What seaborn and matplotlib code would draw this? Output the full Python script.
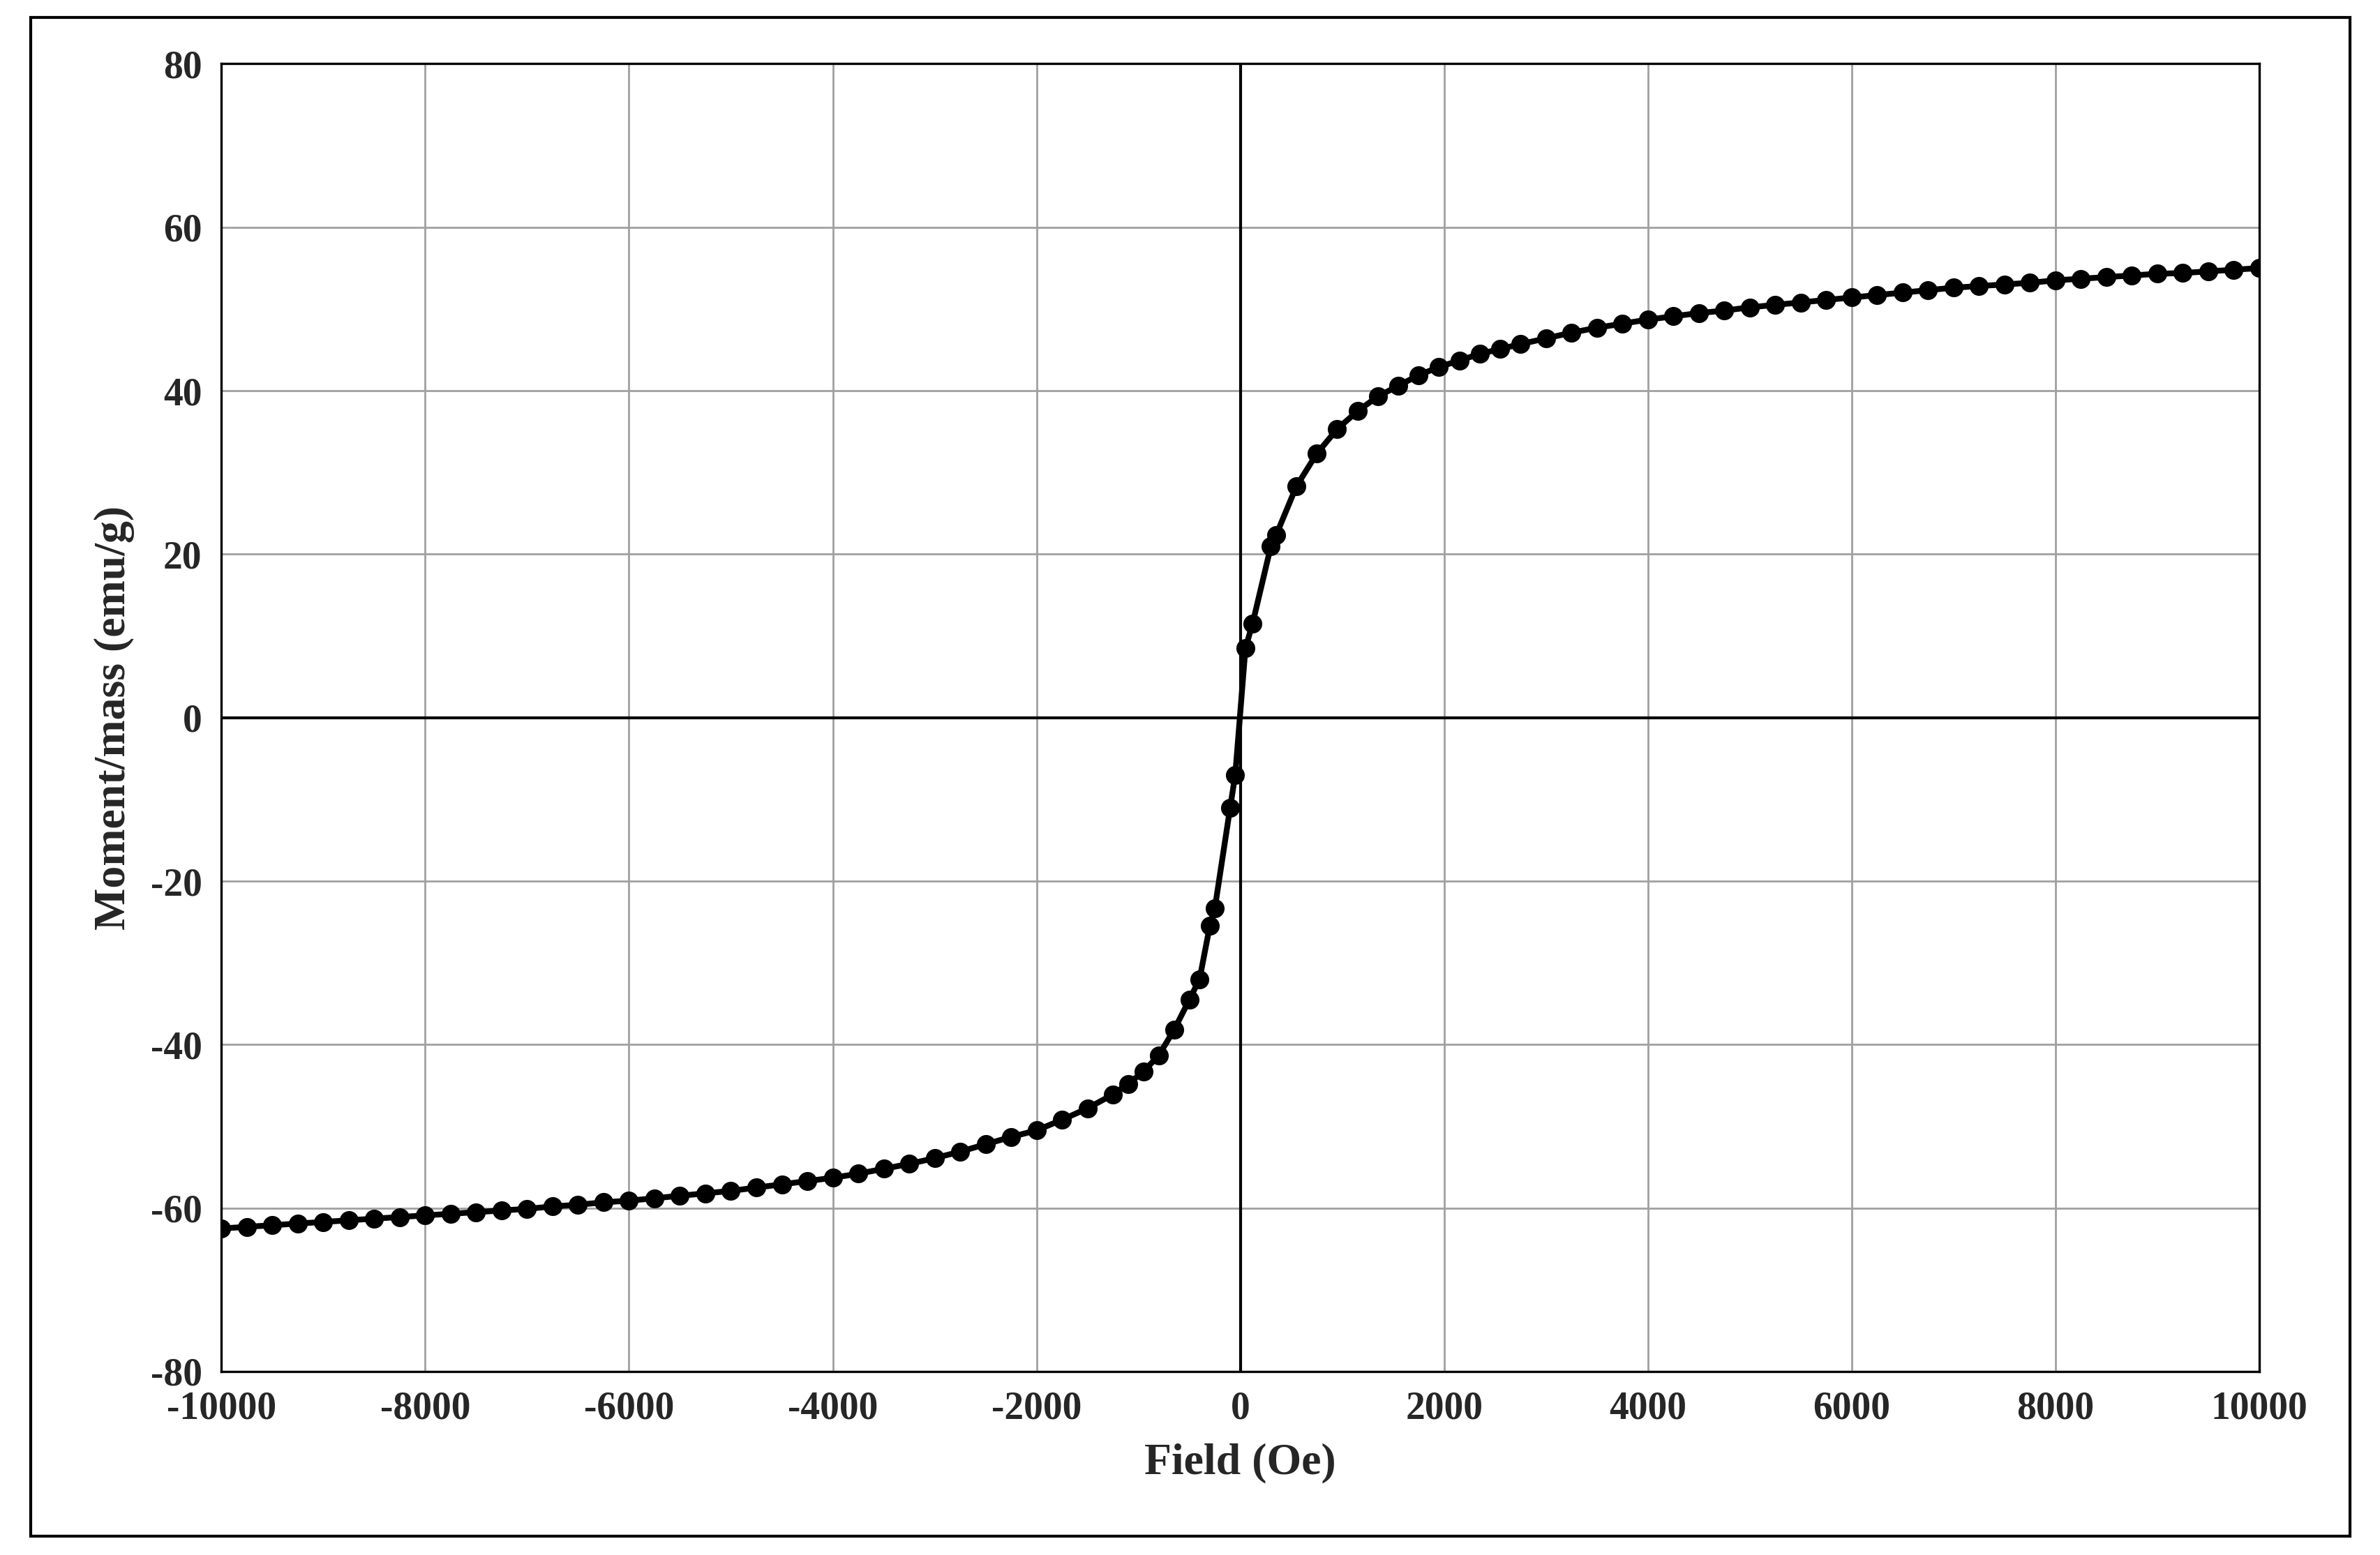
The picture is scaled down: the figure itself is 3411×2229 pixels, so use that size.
import matplotlib
matplotlib.use("Agg")
import matplotlib.pyplot as plt
import seaborn as sns
import pandas as pd
from matplotlib.patches import Rectangle

# Field (Oe) and moment/mass (emu/g)
field = [-10000, -9750, -9500, -9250, -9000, -8750, -8500, -8250, -8000, -7750,
         -7500, -7250, -7000, -6750, -6500, -6250, -6000, -5750, -5500, -5250,
         -5000, -4750, -4500, -4250, -4000, -3750, -3500, -3250, -3000, -2750,
         -2500, -2250, -2000, -1750, -1500, -1250, -1100, -950, -800, -650,
         -500, -400, -300, -250, -100, -50, 50, 120, 300, 350,
         550, 750, 950, 1150, 1350, 1550, 1750, 1950, 2150, 2350,
         2550, 2750, 3000, 3250, 3500, 3750, 4000, 4250, 4500, 4750,
         5000, 5250, 5500, 5750, 6000, 6250, 6500, 6750, 7000, 7250,
         7500, 7750, 8000, 8250, 8500, 8750, 9000, 9250, 9500, 9750, 10000]
moment = [-62.5, -62.3, -62.1, -61.9, -61.7, -61.5, -61.3, -61.1, -60.9, -60.7,
          -60.5, -60.3, -60.1, -59.8, -59.6, -59.3, -59.1, -58.8, -58.5, -58.2,
          -57.9, -57.5, -57.1, -56.7, -56.3, -55.8, -55.2, -54.6, -53.9, -53.1,
          -52.2, -51.3, -50.5, -49.2, -47.8, -46.1, -44.8, -43.3, -41.3, -38.2,
          -34.5, -32.0, -25.5, -23.3, -11.0, -7.0, 8.5, 11.5, 21.0, 22.3,
          28.3, 32.3, 35.3, 37.5, 39.3, 40.6, 41.9, 42.9, 43.7, 44.5,
          45.1, 45.7, 46.4, 47.1, 47.7, 48.2, 48.7, 49.1, 49.5, 49.8,
          50.2, 50.5, 50.8, 51.1, 51.4, 51.7, 52.0, 52.3, 52.6, 52.8,
          53.0, 53.2, 53.5, 53.7, 53.9, 54.1, 54.3, 54.4, 54.6, 54.8, 55.0]

df = pd.DataFrame({"Field": field, "Moment": moment})

sns.set_style("white")
plt.rcParams['font.family'] = ['Liberation Serif', 'DejaVu Serif']
plt.rcParams['font.weight'] = 'bold'
plt.rcParams['axes.unicode_minus'] = False

fig = plt.figure(figsize=(17.06, 11.145), dpi=200)
ax = fig.add_axes([0.093, 0.118, 0.856, 0.841])

sns.lineplot(data=df, x="Field", y="Moment", sort=False, color="black",
             linewidth=3, marker="o", markersize=9, markeredgecolor="black", ax=ax)

ax.set_xlim(-10000, 10000)
ax.set_ylim(-80, 80)
ax.set_xticks(range(-10000, 10001, 2000))
ax.set_yticks(range(-80, 81, 20))
ax.grid(True, color="#a0a0a0", linewidth=1)
ax.axhline(0, color="black", linewidth=1.5)
ax.axvline(0, color="black", linewidth=1.5)
for s in ax.spines.values():
    s.set_color("black")
    s.set_linewidth(1.2)
ax.tick_params(labelsize=20, length=0, pad=10)
for lab in ax.get_xticklabels() + ax.get_yticklabels():
    lab.set_fontweight("bold")
ax.set_xlabel("Field (Oe)", fontsize=23, fontweight="bold", labelpad=8)
ax.set_ylabel("Moment/mass (emu/g)", fontsize=23, fontweight="bold", labelpad=8)

fig.patches.append(Rectangle((0.013, 0.012), 0.974, 0.977, transform=fig.transFigure,
                             fill=False, edgecolor="black", linewidth=1.5))

fig.savefig("out.png", dpi=200)
